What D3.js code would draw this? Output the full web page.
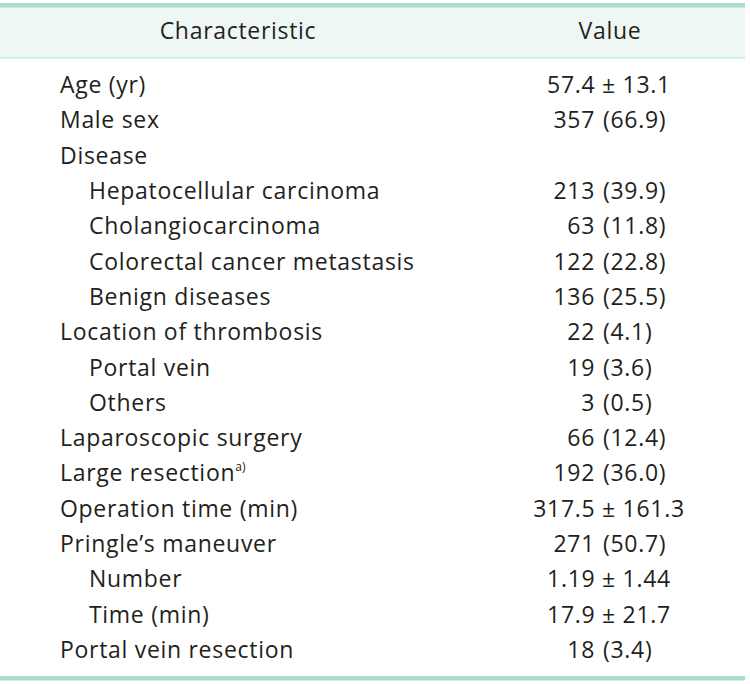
<!DOCTYPE html>
<html><head><meta charset="utf-8">
<script src="https://cdn.jsdelivr.net/npm/d3@7"></script>
<style>html,body{margin:0;padding:0;background:#fff;}svg{display:block;}</style>
</head><body>
<script>
const headers = ["Characteristic", "Value"];
const characteristics = ["Age (yr)", "Male sex", "Disease", "Hepatocellular carcinoma", "Cholangiocarcinoma",
  "Colorectal cancer metastasis", "Benign diseases", "Location of thrombosis", "Portal vein", "Others",
  "Laparoscopic surgery", "Large resection", "Operation time (min)", "Pringle\u2019s maneuver", "Number",
  "Time (min)", "Portal vein resection"];
const indentLevels = [0,0,0,1,1,1,1,0,1,1,0,0,0,0,1,1,0];
const footnoteMarks = ["","","","","","","","","","","","a)","","","","",""];
const values = ["57.4 \u00b1 13.1", "357 (66.9)", "", "213 (39.9)", "63 (11.8)", "122 (22.8)", "136 (25.5)",
  "22 (4.1)", "19 (3.6)", "3 (0.5)", "66 (12.4)", "192 (36.0)", "317.5 \u00b1 161.3", "271 (50.7)",
  "1.19 \u00b1 1.44", "17.9 \u00b1 21.7", "18 (3.4)"];

const W = 750, H = 684;
const font = "'Open Sans', sans-serif";
const fs = 23, ls = 0.7, ink = "#231f20";
const svg = d3.select("body").append("svg").attr("width", W).attr("height", H);

const tableX = d3.scaleLinear().domain([0, 1]).range([0, 745]);
const rowY = d3.scaleLinear().domain([0, characteristics.length - 1]).range([93, 658]);
const indentX = d3.scaleOrdinal().domain([0, 1]).range([60, 89]);

svg.append("rect").attr("x", tableX(0)).attr("y", 7).attr("width", tableX(1) - tableX(0)).attr("height", 51)
  .attr("fill", "#eef7f4");
svg.append("rect").attr("x", tableX(0)).attr("y", 3).attr("width", tableX(1) - tableX(0)).attr("height", 4.5)
  .attr("fill", "#aadccb");
svg.append("rect").attr("x", tableX(0)).attr("y", 57).attr("width", tableX(1) - tableX(0)).attr("height", 1.6)
  .attr("fill", "#cfe9e0");
svg.append("rect").attr("x", tableX(0)).attr("y", 676).attr("width", tableX(1) - tableX(0)).attr("height", 4.5)
  .attr("fill", "#aadccb");

function styled(sel) {
  return sel.attr("font-family", font).attr("font-size", fs).attr("letter-spacing", ls).attr("fill", ink);
}

styled(svg.append("text")).attr("x", 238).attr("y", 38.5).attr("text-anchor", "middle").text(headers[0]);
styled(svg.append("text")).attr("x", 610).attr("y", 38.5).attr("text-anchor", "middle").text(headers[1]);

const rows = svg.append("g").selectAll("g").data(characteristics).join("g");
const lab = styled(rows.append("text"))
  .attr("x", (d, i) => indentX(indentLevels[i]))
  .attr("y", (d, i) => rowY(i))
  .text(d => d);
lab.append("tspan").attr("font-size", 12).attr("letter-spacing", 0).attr("dy", -10).text((d, i) => footnoteMarks[i]);

const valG = svg.append("g");
values.forEach((v, i) => {
  if (!v) return;
  const y = rowY(i);
  if (v.includes("\u00b1")) {
    styled(valG.append("text")).attr("x", 609).attr("y", y).attr("text-anchor", "middle").text(v);
  } else {
    const k = v.indexOf(" (");
    styled(valG.append("text")).attr("x", 595).attr("y", y).attr("text-anchor", "end").text(v.slice(0, k));
    styled(valG.append("text")).attr("x", 603).attr("y", y).attr("text-anchor", "start").text(v.slice(k + 1));
  }
});
</script>
</body></html>
